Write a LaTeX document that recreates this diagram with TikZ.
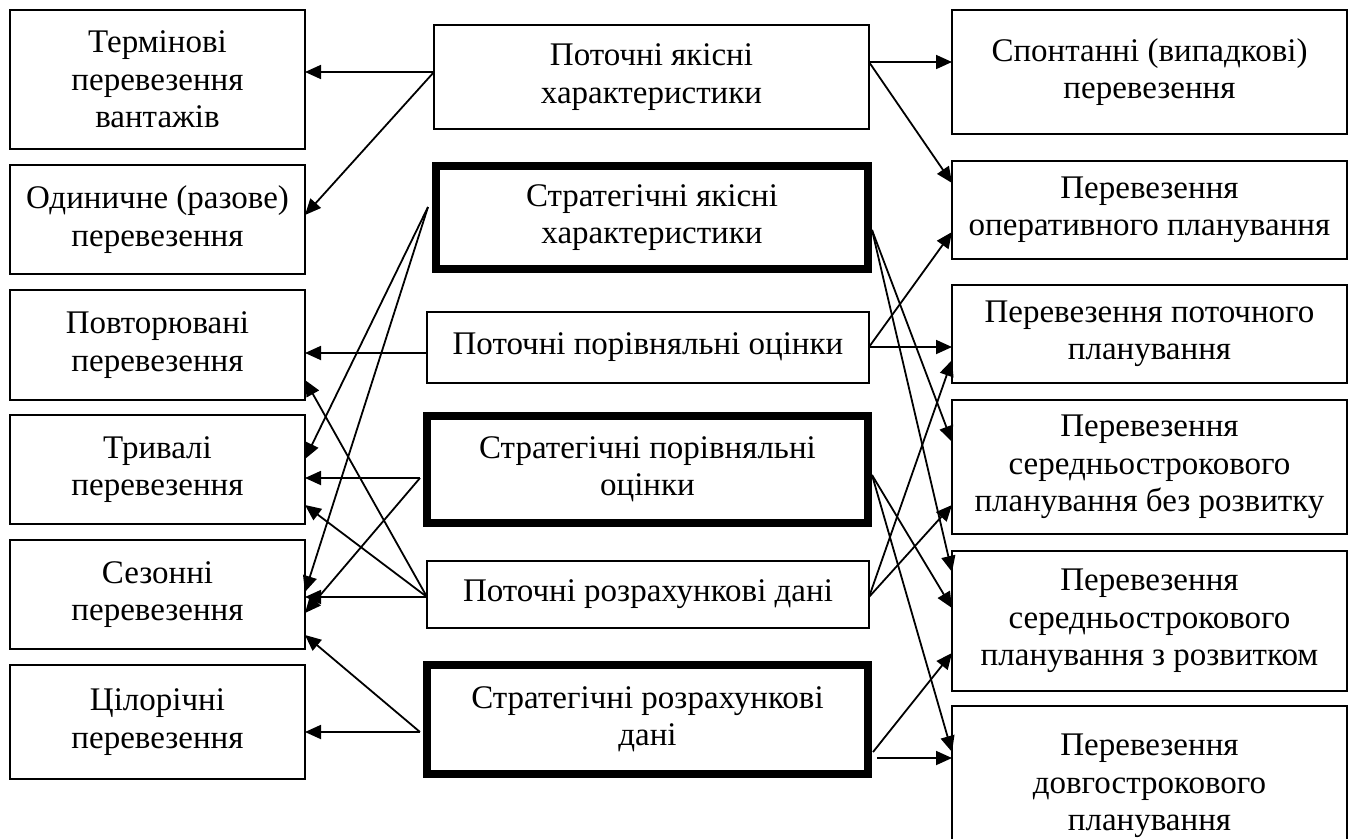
\documentclass[tikz,border=0pt]{standalone}
\usepackage{fontspec}
\setmainfont{Liberation Serif}
\usetikzlibrary{arrows.meta,calc}
\begin{document}
\begin{tikzpicture}[x=1pt,y=-1pt,
  box/.style={draw, line width=1.8pt, rectangle, inner sep=0pt, outer sep=0pt, align=center, font=\fontsize{33}{37.5}\selectfont},
  thickbox/.style={box, line width=8pt},
  arr/.style={line width=1.8pt, -{Triangle[length=16pt,width=14pt]}}]
\useasboundingbox (0,0) rectangle (1354,838);
% left column
\node[box, minimum width=295pt, minimum height=139pt] (L1) at (157.5,79.5) {Термінові\\перевезення\\вантажів};
\node[box, minimum width=295pt, minimum height=109pt] (L2) at (157.5,219.5) {Одиничне (разове)\\перевезення};
\node[box, minimum width=295pt, minimum height=110pt] (L3) at (157.5,345) {Повторювані\\перевезення};
\node[box, minimum width=295pt, minimum height=109pt] (L4) at (157.5,469.5) {Тривалі\\перевезення};
\node[box, minimum width=295pt, minimum height=109pt] (L5) at (157.5,594.5) {Сезонні\\перевезення};
\node[box, minimum width=295pt, minimum height=114pt] (L6) at (157.5,722) {Цілорічні\\перевезення};
% middle column
\node[box, minimum width=435pt, minimum height=104pt] (M1) at (651.5,77) {Поточні якісні\\характеристики};
\node[thickbox, minimum width=432pt, minimum height=103pt] (M2) at (652,217.5) {Стратегічні якісні\\характеристики};
\node[box, minimum width=442pt, minimum height=71pt] (M3) at (648,347.5) {Поточні порівняльні оцінки};
\node[thickbox, minimum width=441pt, minimum height=107pt] (M4) at (647.5,469.5) {Стратегічні порівняльні\\оцінки};
\node[box, minimum width=442pt, minimum height=67pt] (M5) at (648,594.5) {Поточні розрахункові дані};
\node[thickbox, minimum width=441pt, minimum height=109pt] (M6) at (647.5,719.5) {Стратегічні розрахункові\\дані};
% right column
\node[box, minimum width=395pt, minimum height=124pt] (R1) at (1149.5,72) {Спонтанні (випадкові)\\перевезення};
\node[box, minimum width=395pt, minimum height=98pt] (R2) at (1149.5,210) {Перевезення\\оперативного планування};
\node[box, minimum width=395pt, minimum height=98pt] (R3) at (1149.5,334) {Перевезення поточного\\планування};
\node[box, minimum width=395pt, minimum height=134pt] (R4) at (1149.5,467) {Перевезення\\середньострокового\\планування без розвитку};
\node[box, minimum width=395pt, minimum height=140pt] (R5) at (1149.5,621) {Перевезення\\середньострокового\\планування з розвитком};
\node[box, minimum width=395pt, minimum height=160pt] (R6) at (1149.5,786) {Перевезення\\довгострокового\\планування};
% left connectors
\draw[arr] (M1.west |- 0,72) -- (L1.east |- 0,72);
\draw[arr] (M1.west |- 0,72) -- (L2.east |- 0,215);
\draw[arr] ($(M2.west |- 0,207)+(-8,0)$) -- (L4.east |- 0,459);
\draw[arr] ($(M2.west |- 0,207)+(-8,0)$) -- (L5.east |- 0,592);
\draw[arr] (M3.west |- 0,353) -- (L3.east |- 0,353);
\draw[arr] ($(M4.west |- 0,478)+(-7,0)$) -- (L4.east |- 0,478);
\draw[arr] ($(M4.west |- 0,478)+(-7,0)$) -- (L5.east |- 0,613);
\draw[arr] (M5.west |- 0,597) -- (L5.east |- 0,597);
\draw[arr] (M5.west |- 0,597) -- (L4.east |- 0,505);
\draw[arr] (M5.west |- 0,597) -- (L3.east |- 0,380);
\draw[arr] ($(M6.west |- 0,732)+(-7,0)$) -- (L6.east |- 0,732);
\draw[arr] ($(M6.west |- 0,732)+(-7,0)$) -- (L5.east |- 0,635);
% right connectors
\draw[arr] (M1.east |- 0,62) -- (R1.west |- 0,62);
\draw[arr] (M1.east |- 0,62) -- (R2.west |- 0,183);
\draw[arr] ($(M2.east |- 0,230)+(4,0)$) -- (R4.west |- 0,442);
\draw[arr] ($(M2.east |- 0,230)+(4,0)$) -- (R5.west |- 0,572);
\draw[arr] (M3.east |- 0,347) -- (R3.west |- 0,347);
\draw[arr] (M3.east |- 0,347) -- (R2.west |- 0,232);
\draw[arr] ($(M4.east |- 0,475)+(4,0)$) -- (R5.west |- 0,608);
\draw[arr] ($(M4.east |- 0,475)+(4,0)$) -- (R6.west |- 0,752);
\draw[arr] (M5.east |- 0,597) -- (R3.west |- 0,360);
\draw[arr] (M5.east |- 0,597) -- (R4.west |- 0,505);
\draw[arr] ($(M6.east |- 0,752)+(5,0)$) -- (R5.west |- 0,653);
\draw[arr] ($(M6.east |- 0,758)+(9,0)$) -- (R6.west |- 0,758);
\end{tikzpicture}
\end{document}
